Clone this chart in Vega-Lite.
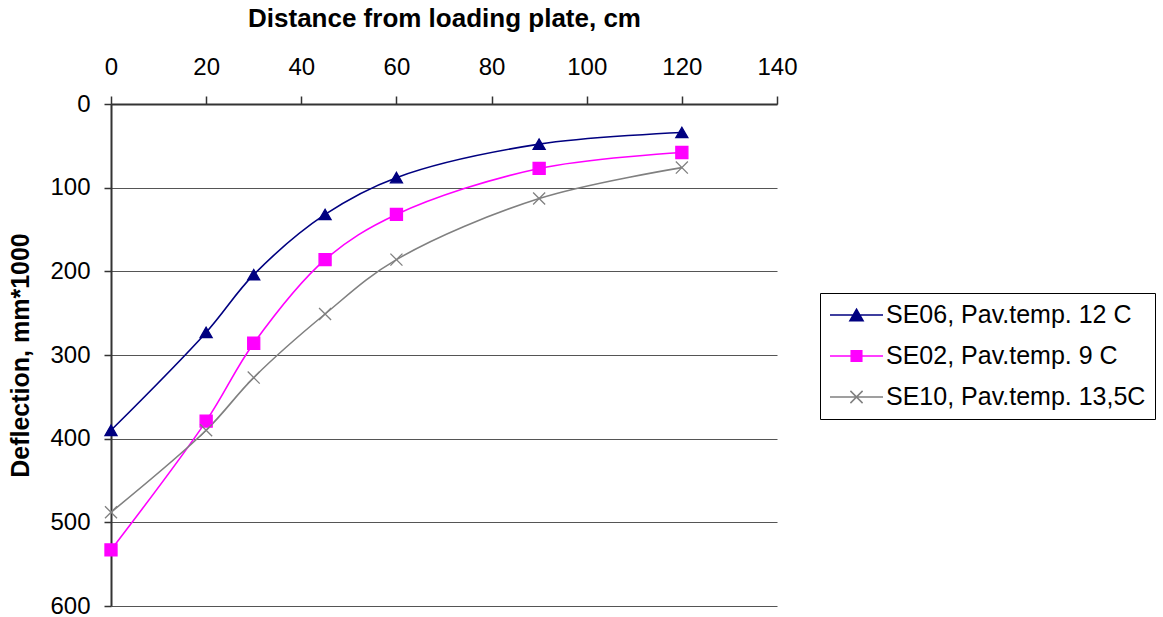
{
  "$schema": "https://vega.github.io/schema/vega-lite/v6.json",
  "width": 666,
  "height": 502,
  "autosize": {"type": "none"},
  "padding": {"left": 111, "top": 104, "right": 386, "bottom": 11},
  "background": "white",
  "config": {"font": "Liberation Sans", "view": {"stroke": null}},
  "data": {
    "values": [
      {"series": "SE06, Pav.temp. 12 C", "distance": 0, "deflection": 390},
      {"series": "SE06, Pav.temp. 12 C", "distance": 20, "deflection": 273},
      {"series": "SE06, Pav.temp. 12 C", "distance": 30, "deflection": 204},
      {"series": "SE06, Pav.temp. 12 C", "distance": 45, "deflection": 132},
      {"series": "SE06, Pav.temp. 12 C", "distance": 60, "deflection": 88},
      {"series": "SE06, Pav.temp. 12 C", "distance": 90, "deflection": 48},
      {"series": "SE06, Pav.temp. 12 C", "distance": 120, "deflection": 34},
      {"series": "SE02, Pav.temp. 9 C", "distance": 0, "deflection": 533},
      {"series": "SE02, Pav.temp. 9 C", "distance": 20, "deflection": 379},
      {"series": "SE02, Pav.temp. 9 C", "distance": 30, "deflection": 286},
      {"series": "SE02, Pav.temp. 9 C", "distance": 45, "deflection": 186},
      {"series": "SE02, Pav.temp. 9 C", "distance": 60, "deflection": 132},
      {"series": "SE02, Pav.temp. 9 C", "distance": 90, "deflection": 77},
      {"series": "SE02, Pav.temp. 9 C", "distance": 120, "deflection": 58},
      {"series": "SE10, Pav.temp. 13,5C", "distance": 0, "deflection": 488},
      {"series": "SE10, Pav.temp. 13,5C", "distance": 20, "deflection": 390},
      {"series": "SE10, Pav.temp. 13,5C", "distance": 30, "deflection": 327},
      {"series": "SE10, Pav.temp. 13,5C", "distance": 45, "deflection": 251},
      {"series": "SE10, Pav.temp. 13,5C", "distance": 60, "deflection": 186},
      {"series": "SE10, Pav.temp. 13,5C", "distance": 90, "deflection": 113},
      {"series": "SE10, Pav.temp. 13,5C", "distance": 120, "deflection": 76}
    ]
  },
  "encoding": {
    "x": {
      "field": "distance",
      "type": "quantitative",
      "scale": {"domain": [0, 140], "nice": false, "zero": false},
      "axis": {
        "orient": "top",
        "values": [0, 20, 40, 60, 80, 100, 120, 140],
        "grid": false,
        "title": "Distance from loading plate, cm",
        "titleFontSize": 26,
        "titleFontWeight": "bold",
        "titleColor": "#000",
        "titleX": 333,
        "titleY": -86,
        "titleBaseline": "middle",
        "titleAlign": "center",
        "labelFontSize": 24,
        "labelColor": "#000",
        "labelBaseline": "alphabetic",
        "labelPadding": 22,
        "labelFlush": false,
        "labelOverlap": false,
        "tickSize": 8,
        "tickColor": "#333",
        "tickWidth": 1.5,
        "domainColor": "#333",
        "domainWidth": 2
      }
    },
    "y": {
      "field": "deflection",
      "type": "quantitative",
      "scale": {"domain": [0, 600], "nice": false, "reverse": true},
      "axis": {
        "orient": "left",
        "values": [0, 100, 200, 300, 400, 500, 600],
        "grid": true,
        "gridColor": "#555",
        "gridWidth": 1.2,
        "title": "Deflection, mm*1000",
        "titleFontSize": 25,
        "titleFontWeight": "bold",
        "titleColor": "#000",
        "titleX": -91,
        "titleY": 251,
        "titleAngle": -90,
        "titleBaseline": "middle",
        "titleAlign": "center",
        "labelFontSize": 24,
        "labelColor": "#000",
        "labelPadding": 14,
        "labelFlush": false,
        "labelOverlap": false,
        "tickSize": 7,
        "tickColor": "#333",
        "tickWidth": 1.5,
        "domainColor": "#333",
        "domainWidth": 2
      }
    }
  },
  "layer": [
    {
      "mark": {"type": "line", "interpolate": "catmull-rom", "strokeWidth": 1.6},
      "encoding": {
        "color": {
          "field": "series",
          "type": "nominal",
          "scale": {
            "domain": ["SE06, Pav.temp. 12 C", "SE02, Pav.temp. 9 C", "SE10, Pav.temp. 13,5C"],
            "range": ["#000080", "#FF00FF", "#808080"]
          },
          "legend": null
        }
      }
    },
    {
      "mark": {"type": "point", "filled": true, "size": 145, "opacity": 1, "strokeWidth": 1.3},
      "encoding": {
        "color": {
          "field": "series",
          "type": "nominal",
          "scale": {
            "domain": ["SE06, Pav.temp. 12 C", "SE02, Pav.temp. 9 C", "SE10, Pav.temp. 13,5C"],
            "range": ["#000080", "#FF00FF", "#808080"]
          },
          "legend": {
            "orient": "none",
            "legendX": 709,
            "legendY": 189,
            "direction": "vertical",
            "title": null,
            "padding": 9,
            "strokeColor": "#000",
            "fillColor": "white",
            "labelFontSize": 25,
            "labelFont": "Liberation Sans",
            "labelColor": "#000",
            "labelOffset": 2,
            "labelLimit": 400,
            "labelBaseline": "middle",
            "clipHeight": 26,
            "rowPadding": 15,
            "symbolSize": 2809,
            "symbolOpacity": 1,
            "symbolStrokeWidth": 1.5,
            "encode": {
              "symbols": {
                "update": {
                  "shape": {"signal": "datum.value === 'SE06, Pav.temp. 12 C' ? 'M-1,0L1,0M0,-0.22L0.25,0.22L-0.25,0.22Z' : datum.value === 'SE02, Pav.temp. 9 C' ? 'M-1,0L1,0M-0.2,-0.2L0.2,-0.2L0.2,0.2L-0.2,0.2Z' : 'M-1,0L1,0M-0.23,-0.23L0.23,0.23M-0.23,0.23L0.23,-0.23'"},
                  "size": {"value": 2809},
                  "stroke": {"signal": "datum.value === 'SE06, Pav.temp. 12 C' ? '#000080' : datum.value === 'SE02, Pav.temp. 9 C' ? '#FF00FF' : '#808080'"},
                  "strokeWidth": {"value": 1.5},
                  "opacity": {"value": 1}
                }
              }
            }
          }
        },
        "stroke": {
          "field": "series",
          "type": "nominal",
          "scale": {
            "domain": ["SE06, Pav.temp. 12 C", "SE02, Pav.temp. 9 C", "SE10, Pav.temp. 13,5C"],
            "range": ["#000080", "#FF00FF", "#808080"]
          },
          "legend": null
        },
        "shape": {
          "field": "series",
          "type": "nominal",
          "scale": {
            "domain": ["SE06, Pav.temp. 12 C", "SE02, Pav.temp. 9 C", "SE10, Pav.temp. 13,5C"],
            "range": ["triangle-up", "square", "M-1,-1L1,1M-1,1L1,-1"]
          },
          "legend": null
        }
      }
    }
  ],
  "resolve": {"scale": {"color": "independent"}, "legend": {"color": "independent"}}
}
